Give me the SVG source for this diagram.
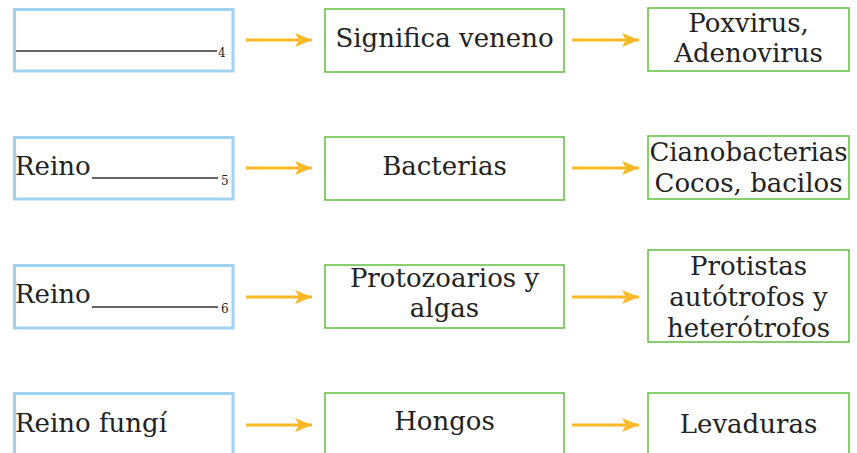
<svg xmlns="http://www.w3.org/2000/svg" width="857" height="453" viewBox="0 0 857 453">
<style>
.blue{fill:#fff;stroke:#9fd3f1;stroke-width:3}
.green{fill:#fff;stroke:#6cc24a;stroke-width:1.6}
.t{font-family:"DejaVu Serif",serif;font-size:26px;fill:#222}
.c{text-anchor:middle}
.sub{font-family:"DejaVu Serif",serif;font-size:12px;fill:#222}
.ul{stroke:#333;stroke-width:1.6}
.arr{stroke:#fbb926;stroke-width:3;fill:none}
</style>
<defs>
<marker id="ah" markerUnits="userSpaceOnUse" markerWidth="18" markerHeight="14" refX="17" refY="7" orient="auto">
<path d="M0,0 L17,7 L0,14 L4,7 Z" fill="#fbb926"/>
</marker>
</defs>
<rect width="857" height="453" fill="#fff"/>
<g id="connectors">
<line class="arr" x1="246" y1="40" x2="312" y2="40" marker-end="url(#ah)"/>
<line class="arr" x1="572" y1="40" x2="639" y2="40" marker-end="url(#ah)"/>
<line class="arr" x1="246" y1="168" x2="312" y2="168" marker-end="url(#ah)"/>
<line class="arr" x1="572" y1="168" x2="639" y2="168" marker-end="url(#ah)"/>
<line class="arr" x1="246" y1="297" x2="312" y2="297" marker-end="url(#ah)"/>
<line class="arr" x1="572" y1="297" x2="639" y2="297" marker-end="url(#ah)"/>
<line class="arr" x1="246" y1="425" x2="312" y2="425" marker-end="url(#ah)"/>
<line class="arr" x1="572" y1="425" x2="639" y2="425" marker-end="url(#ah)"/>
</g>
<g id="n1a">
<rect class="blue" x="14.5" y="9.5" width="218.5" height="61.5"/>
<line class="ul" x1="16" y1="51" x2="217" y2="51"/>
<text class="sub" x="218" y="57">4</text>
</g>
<g id="n1b">
<rect class="green" x="325" y="9" width="239" height="63"/>
<text class="t c" x="444.5" y="47">Significa veneno</text>
</g>
<g id="n1c">
<rect class="green" x="648" y="8" width="201" height="63"/>
<text class="t c" x="748.5" y="32">Poxvirus,</text>
<text class="t c" x="748.5" y="62">Adenovirus</text>
</g>
<g id="n2a">
<rect class="blue" x="14.5" y="137.5" width="218.5" height="61.5"/>
<text class="t" x="15" y="175">Reino</text>
<line class="ul" x1="92" y1="178" x2="218" y2="178"/>
<text class="sub" x="221" y="185">5</text>
</g>
<g id="n2b">
<rect class="green" x="325" y="137" width="239" height="63"/>
<text class="t c" x="444.5" y="175">Bacterias</text>
</g>
<g id="n2c">
<rect class="green" x="648" y="136" width="201" height="63"/>
<text class="t c" x="748.5" y="161">Cianobacterias</text>
<text class="t c" x="748.5" y="192">Cocos, bacilos</text>
</g>
<g id="n3a">
<rect class="blue" x="14.5" y="265.5" width="218.5" height="62.5"/>
<text class="t" x="15" y="303">Reino</text>
<line class="ul" x1="92" y1="307" x2="218" y2="307"/>
<text class="sub" x="221" y="313">6</text>
</g>
<g id="n3b">
<rect class="green" x="325" y="265" width="239" height="63"/>
<text class="t c" x="444.5" y="287">Protozoarios y</text>
<text class="t c" x="444.5" y="317">algas</text>
</g>
<g id="n3c">
<rect class="green" x="648" y="250" width="201" height="92"/>
<text class="t c" x="748.5" y="275">Protistas</text>
<text class="t c" x="748.5" y="306">autótrofos y</text>
<text class="t c" x="748.5" y="337">heterótrofos</text>
</g>
<g id="n4a">
<rect class="blue" x="14.5" y="393.5" width="218.5" height="70"/>
<text class="t" x="15" y="432">Reino fungí</text>
</g>
<g id="n4b">
<rect class="green" x="325" y="393" width="239" height="70"/>
<text class="t c" x="444.5" y="430">Hongos</text>
</g>
<g id="n4c">
<rect class="green" x="648" y="393" width="201" height="70"/>
<text class="t c" x="748.5" y="433">Levaduras</text>
</g>
</svg>
